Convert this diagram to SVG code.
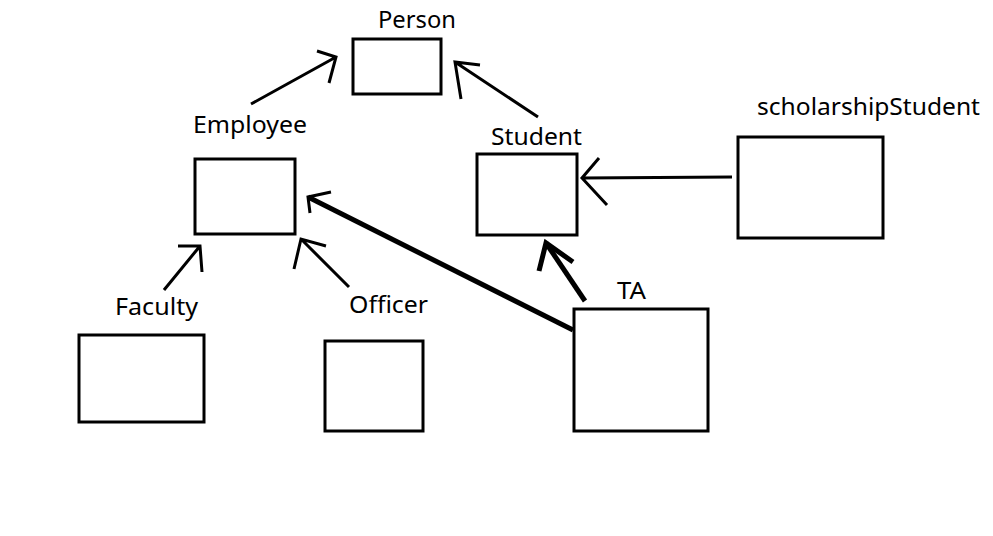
<svg xmlns="http://www.w3.org/2000/svg" width="993" height="536" viewBox="0 0 993 536">
<style>
.box{fill:#fff;stroke:#000;stroke-width:3}
.lbl{font-family:"Noto Sans","Open Sans",sans-serif;font-size:23px;fill:#000}
.ln{fill:none;stroke:#000;stroke-width:3;stroke-linecap:butt}
.thick{fill:none;stroke:#000;stroke-width:5}
</style>
<rect width="993" height="536" fill="#fff"/>
<g id="Person"><rect class="box" x="353" y="39" width="88" height="55"/><text class="lbl" x="378" y="28" textLength="78" lengthAdjust="spacingAndGlyphs">Person</text></g>
<g id="Employee"><rect class="box" x="195" y="159" width="100" height="75"/><text class="lbl" x="193" y="133" textLength="114" lengthAdjust="spacingAndGlyphs">Employee</text></g>
<g id="Student"><rect class="box" x="477" y="154" width="100" height="81"/><text class="lbl" x="491" y="145" textLength="91" lengthAdjust="spacingAndGlyphs">Student</text></g>
<g id="scholarshipStudent"><rect class="box" x="738" y="137" width="145" height="101"/><text class="lbl" x="757" y="115" textLength="223" lengthAdjust="spacingAndGlyphs">scholarshipStudent</text></g>
<g id="Faculty"><rect class="box" x="79" y="335" width="125" height="87"/><text class="lbl" x="115" y="315" textLength="83" lengthAdjust="spacingAndGlyphs">Faculty</text></g>
<g id="Officer"><rect class="box" x="325" y="341" width="98" height="90"/><text class="lbl" x="349" y="313" textLength="79" lengthAdjust="spacingAndGlyphs">Officer</text></g>
<g id="TA"><rect class="box" x="574" y="309" width="134" height="122"/><text class="lbl" x="617" y="299" textLength="29" lengthAdjust="spacingAndGlyphs">TA</text></g>
<g id="connectors">
<path class="ln" d="M251,104 L336,57 M317,51 L336,57 L329,83"/>
<path class="ln" d="M538,117 L455,62 M480,65 L455,62 L461,99"/>
<path class="ln" d="M732,177 L582,178 M599,158 L582,178 L607,205"/>
<path class="ln" d="M164,290 L200,246 M178,246 L200,246 L202,272"/>
<path class="ln" d="M349,287 L301,239 M326,246 L301,239 L294,269"/>
<path class="thick" d="M573,330 L308,197"/>
<path class="ln" d="M331,192 L308,197 L310,213"/>
<path class="thick" d="M585,301 L546,243" stroke-width="6"/>
<path class="thick" d="M539,271 L546,243 L573,262"/>
</g>
</svg>
